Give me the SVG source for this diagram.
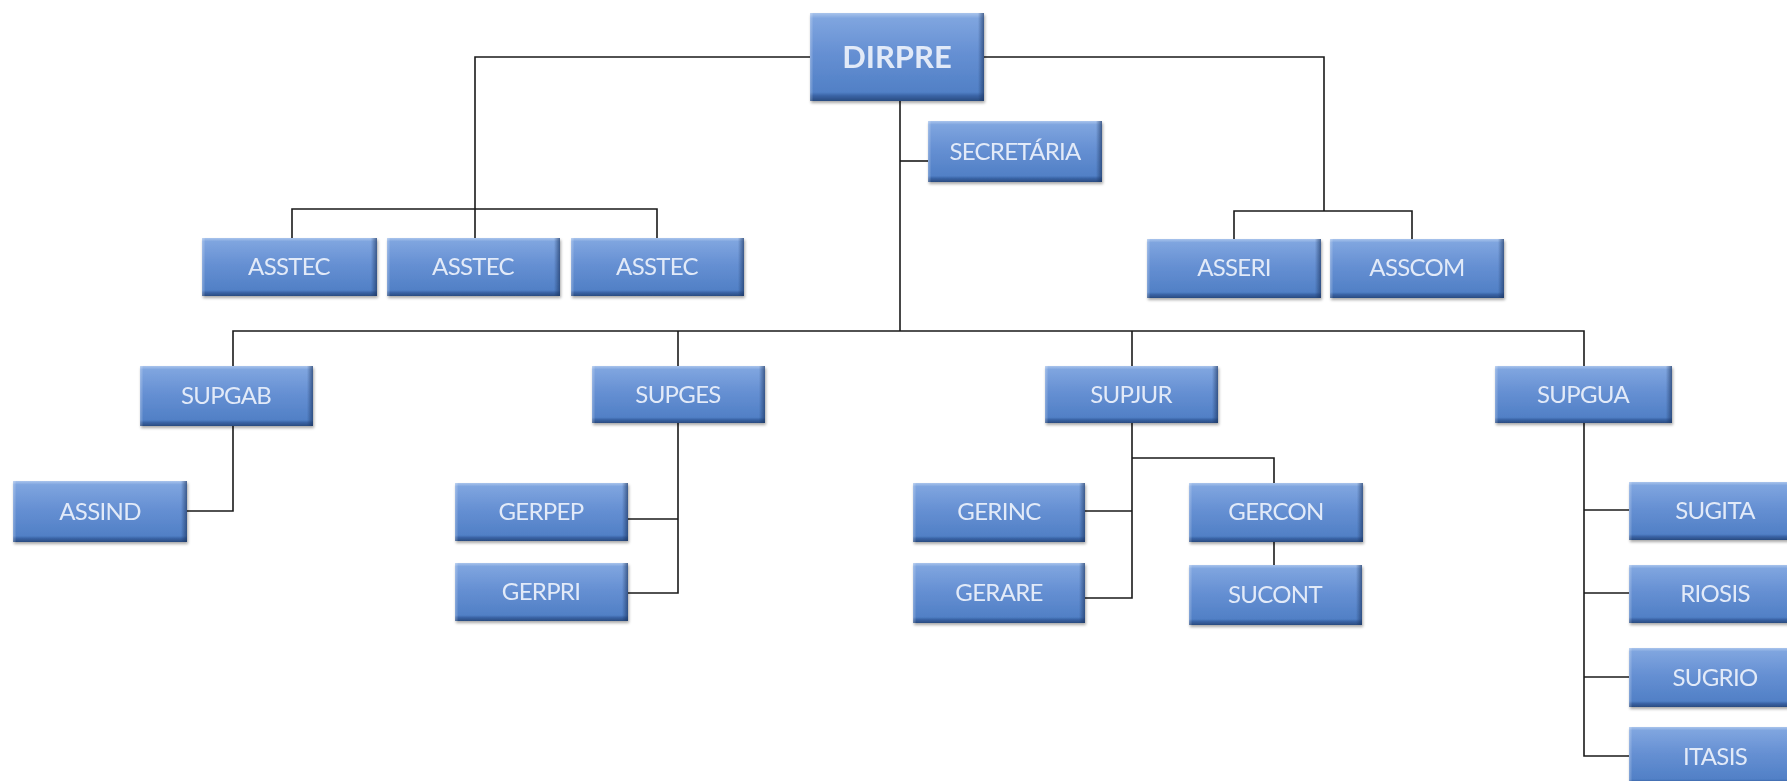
<svg xmlns="http://www.w3.org/2000/svg" width="1787" height="781" viewBox="0 0 1787 781">
  <defs>
    <!-- bevelled blue fill: light rim on top, dark rim at bottom -->
    <linearGradient id="gv" x1="0" y1="0" x2="0" y2="1">
      <stop offset="0" stop-color="#a9c4ec"/>
      <stop offset="0.06" stop-color="#7fa5df"/>
      <stop offset="0.45" stop-color="#6690d3"/>
      <stop offset="0.9" stop-color="#5180c6"/>
      <stop offset="0.94" stop-color="#3a64a6"/>
      <stop offset="1" stop-color="#2a4b80"/>
    </linearGradient>
    <!-- side rims: light left edge, dark right edge -->
    <linearGradient id="gh" x1="0" y1="0" x2="1" y2="0">
      <stop offset="0" stop-color="#ffffff" stop-opacity="0.3"/>
      <stop offset="0.02" stop-color="#ffffff" stop-opacity="0"/>
      <stop offset="0.965" stop-color="#1c3560" stop-opacity="0"/>
      <stop offset="1" stop-color="#1c3560" stop-opacity="0.65"/>
    </linearGradient>
    <filter id="sh" x="-5%" y="-10%" width="115%" height="130%">
      <feGaussianBlur in="SourceAlpha" stdDeviation="1.5"/>
      <feOffset dx="1" dy="2" result="b"/>
      <feComponentTransfer><feFuncA type="linear" slope="0.35"/></feComponentTransfer>
      <feMerge><feMergeNode/><feMergeNode in="SourceGraphic"/></feMerge>
    </filter>
  </defs>
  <style>
    .box { fill: url(#gv); }
    .rim { fill: url(#gh); }
    .node { filter: url(#sh); }
    text { font-family: Lato, "Liberation Sans", sans-serif; font-size: 24px; letter-spacing: -0.7px; fill: #e2eaf8; text-anchor: middle; }
    .big { font-size: 31px; font-weight: bold; letter-spacing: 0; }
    .wire { fill: none; stroke: #1a1a1a; stroke-width: 1.6; }
  </style>
  <rect width="1787" height="781" fill="#ffffff"/>

  <g id="connectors" class="wire">
    <path d="M810,57 H475 V238"/>
    <path d="M292,238 V209 H657 V238"/>
    <path d="M984,57 H1324 V211"/>
    <path d="M1234,239 V211 H1412 V239"/>
    <path d="M900,101 V331"/>
    <path d="M900,161 H928"/>
    <path d="M233,366 V331 H1584 V366"/>
    <path d="M678,331 V366"/>
    <path d="M1132,331 V366"/>
    <path d="M233,426 V511 H187"/>
    <path d="M678,423 V593 H628"/>
    <path d="M628,519 H678"/>
    <path d="M1132,423 V598 H1085"/>
    <path d="M1085,511 H1132"/>
    <path d="M1132,458 H1274 V483"/>
    <path d="M1274,542 V565"/>
    <path d="M1584,423 V756 H1629"/>
    <path d="M1584,510 H1629"/>
    <path d="M1584,593 H1629"/>
    <path d="M1584,677 H1629"/>
  </g>

  <g id="dirpre" class="node"><rect class="box" x="810" y="13" width="174" height="88"/><rect class="rim" x="810" y="13" width="174" height="88"/><text class="big" x="897" y="68">DIRPRE</text></g>
  <g id="secretaria" class="node"><rect class="box" x="928" y="121" width="174" height="61"/><rect class="rim" x="928" y="121" width="174" height="61"/><text x="1015" y="160">SECRETÁRIA</text></g>

  <g id="asstec-1" class="node"><rect class="box" x="202" y="238" width="175" height="58"/><rect class="rim" x="202" y="238" width="175" height="58"/><text x="289" y="275">ASSTEC</text></g>
  <g id="asstec-2" class="node"><rect class="box" x="387" y="238" width="173" height="58"/><rect class="rim" x="387" y="238" width="173" height="58"/><text x="473" y="275">ASSTEC</text></g>
  <g id="asstec-3" class="node"><rect class="box" x="571" y="238" width="173" height="58"/><rect class="rim" x="571" y="238" width="173" height="58"/><text x="657" y="275">ASSTEC</text></g>
  <g id="asseri" class="node"><rect class="box" x="1147" y="239" width="174" height="59"/><rect class="rim" x="1147" y="239" width="174" height="59"/><text x="1234" y="276">ASSERI</text></g>
  <g id="asscom" class="node"><rect class="box" x="1330" y="239" width="174" height="59"/><rect class="rim" x="1330" y="239" width="174" height="59"/><text x="1417" y="276">ASSCOM</text></g>

  <g id="supgab" class="node"><rect class="box" x="140" y="366" width="173" height="60"/><rect class="rim" x="140" y="366" width="173" height="60"/><text x="226" y="404">SUPGAB</text></g>
  <g id="supges" class="node"><rect class="box" x="592" y="366" width="173" height="57"/><rect class="rim" x="592" y="366" width="173" height="57"/><text x="678" y="403">SUPGES</text></g>
  <g id="supjur" class="node"><rect class="box" x="1045" y="366" width="173" height="57"/><rect class="rim" x="1045" y="366" width="173" height="57"/><text x="1131" y="403">SUPJUR</text></g>
  <g id="supgua" class="node"><rect class="box" x="1495" y="366" width="177" height="57"/><rect class="rim" x="1495" y="366" width="177" height="57"/><text x="1583" y="403">SUPGUA</text></g>

  <g id="assind" class="node"><rect class="box" x="13" y="481" width="174" height="61"/><rect class="rim" x="13" y="481" width="174" height="61"/><text x="100" y="520">ASSIND</text></g>
  <g id="gerpep" class="node"><rect class="box" x="455" y="483" width="173" height="58"/><rect class="rim" x="455" y="483" width="173" height="58"/><text x="541" y="520">GERPEP</text></g>
  <g id="gerpri" class="node"><rect class="box" x="455" y="563" width="173" height="58"/><rect class="rim" x="455" y="563" width="173" height="58"/><text x="541" y="600">GERPRI</text></g>
  <g id="gerinc" class="node"><rect class="box" x="913" y="483" width="172" height="59"/><rect class="rim" x="913" y="483" width="172" height="59"/><text x="999" y="520">GERINC</text></g>
  <g id="gerare" class="node"><rect class="box" x="913" y="563" width="172" height="60"/><rect class="rim" x="913" y="563" width="172" height="60"/><text x="999" y="601">GERARE</text></g>
  <g id="gercon" class="node"><rect class="box" x="1189" y="483" width="174" height="59"/><rect class="rim" x="1189" y="483" width="174" height="59"/><text x="1276" y="520">GERCON</text></g>
  <g id="sucont" class="node"><rect class="box" x="1189" y="565" width="173" height="60"/><rect class="rim" x="1189" y="565" width="173" height="60"/><text x="1275" y="603">SUCONT</text></g>

  <g id="sugita" class="node"><rect class="box" x="1629" y="482" width="173" height="58"/><rect class="rim" x="1629" y="482" width="173" height="58"/><text x="1715" y="519">SUGITA</text></g>
  <g id="riosis" class="node"><rect class="box" x="1629" y="565" width="173" height="58"/><rect class="rim" x="1629" y="565" width="173" height="58"/><text x="1715" y="602">RIOSIS</text></g>
  <g id="sugrio" class="node"><rect class="box" x="1629" y="648" width="173" height="59"/><rect class="rim" x="1629" y="648" width="173" height="59"/><text x="1715" y="686">SUGRIO</text></g>
  <g id="itasis" class="node"><rect class="box" x="1629" y="727" width="173" height="58"/><rect class="rim" x="1629" y="727" width="173" height="58"/><text x="1715" y="765">ITASIS</text></g>
</svg>
